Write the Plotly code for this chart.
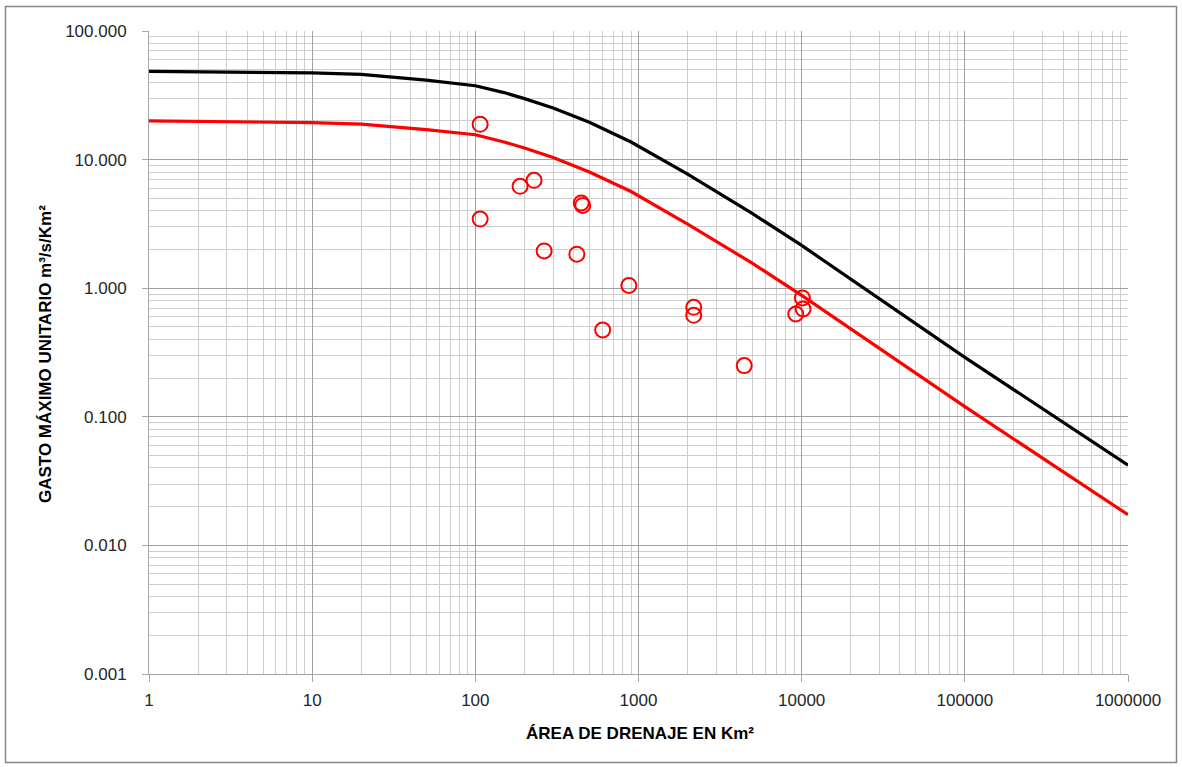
import plotly.graph_objects as go

# Envelope curves (area km², unit discharge m3/s/km²)
curve_area = [1, 10, 20, 50, 100, 150, 200, 300, 500, 900, 2000, 5000, 10000, 100000, 1000000]
black_q = [48.5, 47.2, 46.0, 41.5, 37.5, 33.2, 29.8, 25.2, 19.5, 13.7, 7.7, 3.8, 2.15, 0.29, 0.042]
red_q = [20.0, 19.4, 18.9, 17.1, 15.6, 13.7, 12.3, 10.4, 8.0, 5.65, 3.15, 1.56, 0.88, 0.12, 0.0173]

# Observed stations
obs_area = [107, 107, 188, 229, 446, 455, 264, 419, 873, 603, 2180, 2180, 4445, 10100, 10200, 9200]
obs_q = [18.8, 3.45, 6.2, 6.9, 4.6, 4.4, 1.95, 1.84, 1.05, 0.473, 0.71, 0.615, 0.25, 0.84, 0.69, 0.63]

x_ticks = [1, 10, 100, 1000, 10000, 100000, 1000000]
x_ticktext = ["1", "10", "100", "1000", "10000", "100000", "1000000"]
y_ticks = [0.001, 0.01, 0.1, 1, 10, 100]
y_ticktext = ["0.001", "0.010", "0.100", "1.000", "10.000", "100.000"]

x_title = "ÁREA DE DRENAJE EN Km²"
y_title = "GASTO MÁXIMO UNITARIO m³/s/Km²"

FONT = "Liberation Sans, Arial, sans-serif"

fig = go.Figure()
fig.add_trace(go.Scatter(x=curve_area, y=black_q, mode="lines",
                         line=dict(color="#000000", width=3.2), showlegend=False))
fig.add_trace(go.Scatter(x=curve_area, y=red_q, mode="lines",
                         line=dict(color="#ff0000", width=3.2), showlegend=False))
fig.add_trace(go.Scatter(x=obs_area, y=obs_q, mode="markers",
                         marker=dict(symbol="circle-open", size=15,
                                     line=dict(color="#ff0000", width=2),
                                     color="#ff0000"),
                         showlegend=False))

L, R, T, B = 149, 1128, 31, 674
W, H = 1182, 767
pw, ph = R - L, B - T

def px(x):
    return (x - L) / pw

def py(y):
    return (B - y) / ph

axis_common = dict(
    type="log",
    showline=True, linecolor="#a6a6a6", linewidth=1,
    showgrid=True, gridcolor="#a0a0a0", gridwidth=1,
    ticks="outside", tickcolor="#a6a6a6", ticklen=7,
    tickfont=dict(family=FONT, size=17, color="#262626"),
    zeroline=False, mirror=False,
    minor=dict(showgrid=True, gridcolor="#cdcdcd", gridwidth=1, dtick="D1", ticks=""),
)

fig.update_layout(
    width=W, height=H,
    margin=dict(l=L, r=W - R, t=T, b=H - B, autoexpand=False),
    paper_bgcolor="white", plot_bgcolor="white",
    xaxis=dict(axis_common, range=[0, 6], tickvals=x_ticks, ticktext=x_ticktext,
               ticklabelstandoff=4),
    yaxis=dict(axis_common, range=[-3, 2], tickvals=y_ticks, ticktext=y_ticktext,
               ticklen=6, ticklabelstandoff=12),
    annotations=[
        dict(text=x_title, xref="paper", yref="paper", x=px(640), y=py(733),
             xanchor="center", yanchor="middle", showarrow=False,
             font=dict(family=FONT, size=17, color="#000000", weight="bold")),
        dict(text=y_title, xref="paper", yref="paper", x=px(46), y=py(354),
             xanchor="center", yanchor="middle", showarrow=False, textangle=-90,
             font=dict(family=FONT, size=17, color="#000000", weight="bold")),
    ],
    shapes=[
        dict(type="rect", xref="paper", yref="paper",
             x0=px(5.5), x1=px(1176.5), y0=py(762.5), y1=py(6.5),
             line=dict(color="#868686", width=1.5), fillcolor="rgba(0,0,0,0)", layer="below"),
    ],
)

fig.write_html("out.html")
